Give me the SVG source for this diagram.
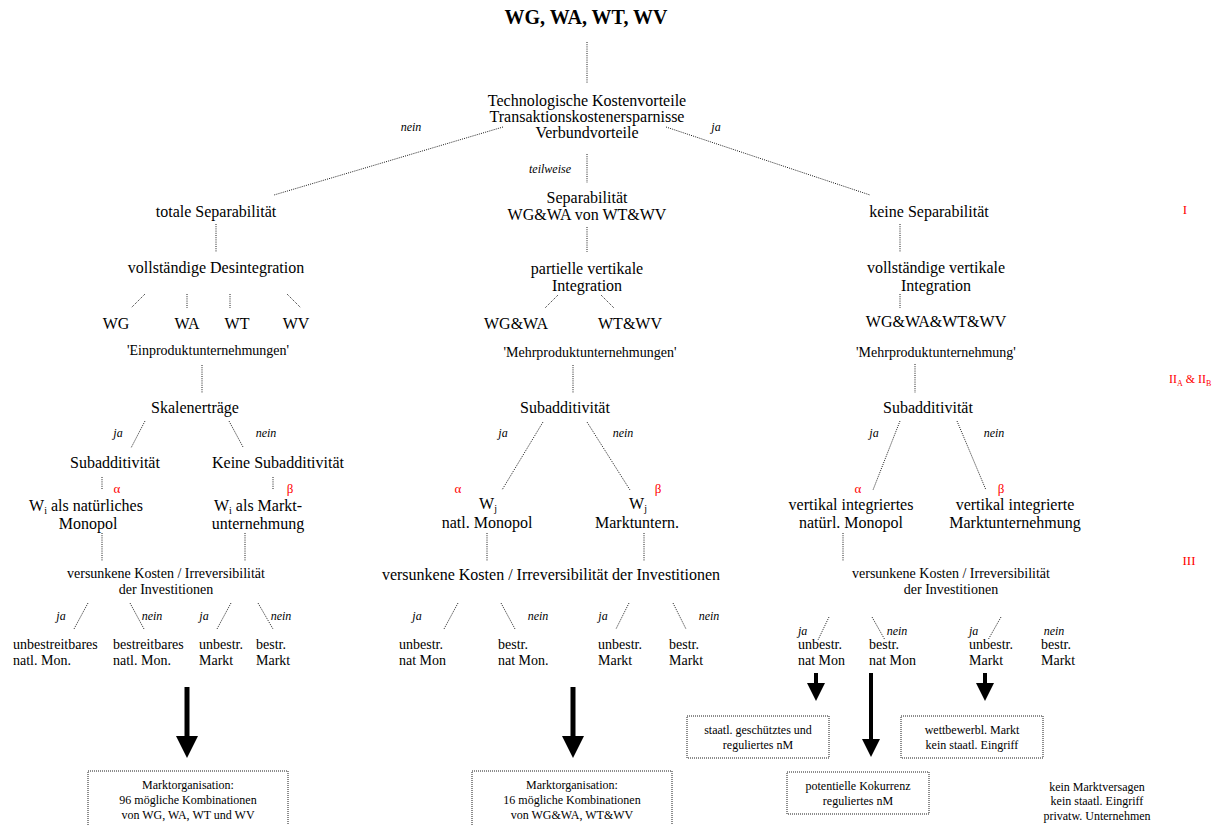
<svg xmlns="http://www.w3.org/2000/svg" width="1219" height="825" viewBox="0 0 1219 825" font-family="'Liberation Serif', 'Times New Roman', 'DejaVu Serif', serif">
<style>
svg text{font-family:'Liberation Serif','Times New Roman','DejaVu Serif',serif;fill:#000}
.m{font-size:16px;text-anchor:middle}
.s{font-size:14px;text-anchor:middle}
.l{font-size:14px;text-anchor:start}
.b{font-size:12px;text-anchor:middle}
.e{font-size:12px;font-style:italic;text-anchor:middle}
.es{font-size:12px;font-style:italic;text-anchor:start}
.r{fill:#ff0000;font-size:13px;text-anchor:middle}
.rl{fill:#ff0000;font-size:12px;text-anchor:start}
.d{stroke:#000;stroke-width:0.9;stroke-dasharray:1 1.2;fill:none}
.box{stroke:#000;stroke-width:0.9;stroke-dasharray:1 1;fill:#fff}
.big{stroke:#000;stroke-width:5;marker-end:url(#hb)}
.sm{stroke:#000;stroke-width:4;marker-end:url(#hs)}
</style>
<defs>
<marker id="hb" markerUnits="userSpaceOnUse" markerWidth="22" markerHeight="22" viewBox="0 0 22 22" refX="0" refY="11" orient="auto"><path d="M0,0 L22,11 L0,22 z" fill="#000"/></marker>
<marker id="hs" markerUnits="userSpaceOnUse" markerWidth="18" markerHeight="18" viewBox="0 0 18 18" refX="0" refY="9" orient="auto"><path d="M0,0 L18,9 L0,18 z" fill="#000"/></marker>
</defs>
<rect width="1219" height="825" fill="#fff"/>

<g id="connectors">
<line class="d" x1="587" y1="42" x2="587" y2="83"/>
<line class="d" x1="503" y1="127" x2="274" y2="195"/>
<line class="d" x1="666" y1="127" x2="870" y2="195"/>
<line class="d" x1="587" y1="154" x2="587" y2="183"/>
<line class="d" x1="216" y1="224" x2="216" y2="252"/>
<line class="d" x1="587" y1="227" x2="587" y2="252"/>
<line class="d" x1="900" y1="224" x2="900" y2="252"/>
<line class="d" x1="145" y1="294" x2="131" y2="308"/>
<line class="d" x1="187" y1="294" x2="187" y2="308"/>
<line class="d" x1="230" y1="294" x2="230" y2="308"/>
<line class="d" x1="287" y1="294" x2="301" y2="308"/>
<line class="d" x1="558" y1="295" x2="545" y2="308"/>
<line class="d" x1="601" y1="295" x2="614" y2="308"/>
<line class="d" x1="900" y1="294" x2="900" y2="308"/>
<line class="d" x1="202" y1="365" x2="202" y2="393"/>
<line class="d" x1="573" y1="365" x2="573" y2="393"/>
<line class="d" x1="915" y1="364" x2="915" y2="393"/>
<line class="d" x1="145" y1="421" x2="131" y2="448"/>
<line class="d" x1="229" y1="421" x2="243" y2="447"/>
<line class="d" x1="102" y1="477" x2="102" y2="490"/>
<line class="d" x1="273" y1="477" x2="273" y2="490"/>
<line class="d" x1="102" y1="533" x2="102" y2="561"/>
<line class="d" x1="245" y1="533" x2="245" y2="561"/>
<line class="d" x1="88" y1="603" x2="74" y2="629"/>
<line class="d" x1="130" y1="603" x2="144" y2="629"/>
<line class="d" x1="231" y1="603" x2="217" y2="629"/>
<line class="d" x1="258" y1="603" x2="273" y2="629"/>
<line class="d" x1="543" y1="422" x2="502" y2="490"/>
<line class="d" x1="587" y1="422" x2="630" y2="490"/>
<line class="d" x1="487" y1="533" x2="487" y2="561"/>
<line class="d" x1="644" y1="533" x2="644" y2="561"/>
<line class="d" x1="458" y1="603" x2="444" y2="629"/>
<line class="d" x1="501" y1="603" x2="515" y2="629"/>
<line class="d" x1="629" y1="603" x2="616" y2="629"/>
<line class="d" x1="673" y1="603" x2="686" y2="629"/>
<line class="d" x1="900" y1="421" x2="873" y2="490"/>
<line class="d" x1="957" y1="421" x2="986" y2="490"/>
<line class="d" x1="843" y1="533" x2="843" y2="561"/>
<line class="d" x1="829" y1="617" x2="818" y2="640"/>
<line class="d" x1="872" y1="617" x2="885" y2="640"/>
<line class="d" x1="1001" y1="617" x2="988" y2="640"/>
<line class="big" x1="187" y1="687" x2="187" y2="736"/>
<line class="big" x1="573" y1="687" x2="573" y2="736"/>
<line class="sm" x1="816" y1="673" x2="816" y2="683"/>
<line class="sm" x1="871" y1="673" x2="871" y2="739"/>
<line class="sm" x1="985" y1="673" x2="985" y2="683"/>
</g>

<g id="edge-labels">
<text class="e" x="411" y="131">nein</text>
<text class="e" x="716" y="131">ja</text>
<text class="e" x="550" y="173">teilweise</text>
<text class="e" x="118" y="437">ja</text>
<text class="e" x="266" y="437">nein</text>
<text class="e" x="61" y="620">ja</text>
<text class="e" x="152" y="620">nein</text>
<text class="e" x="204" y="620">ja</text>
<text class="e" x="281" y="620">nein</text>
<text class="e" x="503" y="437">ja</text>
<text class="e" x="623" y="437">nein</text>
<text class="e" x="417" y="620">ja</text>
<text class="e" x="538" y="620">nein</text>
<text class="e" x="603" y="620">ja</text>
<text class="e" x="709" y="620">nein</text>
<text class="e" x="874" y="437">ja</text>
<text class="e" x="994" y="437">nein</text>
<text class="es" x="798" y="635">ja</text>
<text class="e" x="897" y="635">nein</text>
<text class="es" x="969" y="635">ja</text>
<text class="e" x="1054" y="635">nein</text>
</g>

<g id="levels">
<text class="r" x="1185" y="214">I</text>
<text class="rl" x="1169" y="383">II<tspan font-size="8" dy="3">A</tspan><tspan dy="-3"> &amp; II</tspan><tspan font-size="8" dy="3">B</tspan></text>
<text class="r" x="1189" y="565">III</text>
</g>

<g id="n-title"><text x="586" y="24" style="font-size:20px;font-weight:bold;text-anchor:middle">WG, WA, WT, WV</text></g>
<g id="n-tech">
<text class="m" x="587" y="106">Technologische Kostenvorteile</text>
<text class="m" x="587" y="122">Transaktionskostenersparnisse</text>
<text class="m" x="587" y="138">Verbundvorteile</text>
</g>
<g id="n-total"><text class="m" x="216" y="217">totale Separabilität</text></g>
<g id="n-sep"><text class="m" x="587" y="203">Separabilität</text><text class="m" x="587" y="220">WG&amp;WA von WT&amp;WV</text></g>
<g id="n-keine"><text class="m" x="929" y="217">keine Separabilität</text></g>
<g id="n-desint"><text class="m" x="216" y="273">vollständige Desintegration</text></g>
<g id="n-partiell"><text class="m" x="587" y="274">partielle vertikale</text><text class="m" x="587" y="291">Integration</text></g>
<g id="n-vollvert"><text class="m" x="936" y="273">vollständige vertikale</text><text class="m" x="936" y="291">Integration</text></g>
<g id="n-wg"><text class="m" x="116" y="329">WG</text></g>
<g id="n-wa"><text class="m" x="187" y="329">WA</text></g>
<g id="n-wt"><text class="m" x="237" y="329">WT</text></g>
<g id="n-wv"><text class="m" x="296" y="329">WV</text></g>
<g id="n-wgwa"><text class="m" x="516" y="329">WG&amp;WA</text></g>
<g id="n-wtwv"><text class="m" x="630" y="329">WT&amp;WV</text></g>
<g id="n-all"><text class="m" x="936" y="327">WG&amp;WA&amp;WT&amp;WV</text></g>
<g id="n-ein"><text class="s" x="208" y="355">'Einproduktunternehmungen'</text></g>
<g id="n-mehr1"><text class="s" x="590" y="357">'Mehrproduktunternehmungen'</text></g>
<g id="n-mehr2"><text class="s" x="936" y="357">'Mehrproduktunternehmung'</text></g>

<g id="n-skal"><text class="m" x="195" y="413">Skalenerträge</text></g>
<g id="n-subL"><text class="m" x="115" y="468">Subadditivität</text></g>
<g id="n-keinesub"><text class="m" x="278" y="468">Keine Subadditivität</text></g>
<g id="n-wimon">
<text class="r" x="117" y="493">α</text>
<text class="m" x="86" y="511">W<tspan font-size="10" dy="3">i</tspan><tspan dy="-3"> als natürliches</tspan></text>
<text class="m" x="88" y="529">Monopol</text>
</g>
<g id="n-wimarkt">
<text class="r" x="290" y="493">β</text>
<text class="m" x="258" y="511">W<tspan font-size="10" dy="3">i</tspan><tspan dy="-3"> als Markt-</tspan></text>
<text class="m" x="258" y="529">unternehmung</text>
</g>
<g id="n-versL"><text class="s" x="166" y="578">versunkene Kosten / Irreversibilität</text><text class="s" x="166" y="594">der Investitionen</text></g>
<g id="n-L1"><text class="l" x="13" y="649">unbestreitbares</text><text class="l" x="13" y="665">natl. Mon.</text></g>
<g id="n-L2"><text class="l" x="113" y="649">bestreitbares</text><text class="l" x="113" y="665">natl. Mon.</text></g>
<g id="n-L3"><text class="l" x="199" y="649">unbestr.</text><text class="l" x="199" y="665">Markt</text></g>
<g id="n-L4"><text class="l" x="256" y="649">bestr.</text><text class="l" x="256" y="665">Markt</text></g>

<g id="n-subM"><text class="m" x="565" y="413">Subadditivität</text></g>
<g id="n-wjmon">
<text class="r" x="458" y="493">α</text>
<text class="m" x="488" y="509">W<tspan font-size="10" dy="3">j</tspan></text>
<text class="m" x="487" y="528">natl. Monopol</text>
</g>
<g id="n-wjmarkt">
<text class="r" x="658" y="493">β</text>
<text class="m" x="638" y="509">W<tspan font-size="10" dy="3">j</tspan></text>
<text class="m" x="637" y="528">Marktuntern.</text>
</g>
<g id="n-versM"><text class="m" x="551" y="580">versunkene Kosten / Irreversibilität der Investitionen</text></g>
<g id="n-M1"><text class="l" x="399" y="649">unbestr.</text><text class="l" x="399" y="665">nat Mon</text></g>
<g id="n-M2"><text class="l" x="498" y="649">bestr.</text><text class="l" x="498" y="665">nat Mon.</text></g>
<g id="n-M3"><text class="l" x="598" y="649">unbestr.</text><text class="l" x="598" y="665">Markt</text></g>
<g id="n-M4"><text class="l" x="669" y="649">bestr.</text><text class="l" x="669" y="665">Markt</text></g>

<g id="n-subR"><text class="m" x="928" y="413">Subadditivität</text></g>
<g id="n-vimon">
<text class="r" x="858" y="493">α</text>
<text class="m" x="851" y="510">vertikal integriertes</text>
<text class="m" x="851" y="528">natürl. Monopol</text>
</g>
<g id="n-vimarkt">
<text class="r" x="1001" y="493">β</text>
<text class="m" x="1015" y="510">vertikal integrierte</text>
<text class="m" x="1015" y="528">Marktunternehmung</text>
</g>
<g id="n-versR"><text class="s" x="951" y="578">versunkene Kosten / Irreversibilität</text><text class="s" x="951" y="594">der Investitionen</text></g>
<g id="n-R1"><text class="l" x="798" y="649">unbestr.</text><text class="l" x="798" y="665">nat Mon</text></g>
<g id="n-R2"><text class="l" x="869" y="649">bestr.</text><text class="l" x="869" y="665">nat Mon</text></g>
<g id="n-R3"><text class="l" x="969" y="649">unbestr.</text><text class="l" x="969" y="665">Markt</text></g>
<g id="n-R4"><text class="l" x="1041" y="649">bestr.</text><text class="l" x="1041" y="665">Markt</text></g>

<g id="n-box96">
<rect class="box" x="88" y="771" width="200" height="70"/>
<text class="b" x="188" y="789">Marktorganisation:</text>
<text class="b" x="188" y="804">96 mögliche Kombinationen</text>
<text class="b" x="188" y="819">von WG, WA, WT und WV</text>
</g>
<g id="n-box16">
<rect class="box" x="472" y="771" width="200" height="70"/>
<text class="b" x="572" y="789">Marktorganisation:</text>
<text class="b" x="572" y="804">16 mögliche Kombinationen</text>
<text class="b" x="572" y="819">von WG&amp;WA, WT&amp;WV</text>
</g>
<g id="n-staatl">
<rect class="box" x="687" y="716" width="142" height="42"/>
<text class="b" x="758" y="734">staatl. geschütztes und</text>
<text class="b" x="758" y="749">reguliertes nM</text>
</g>
<g id="n-potentielle">
<rect class="box" x="787" y="772" width="142" height="42"/>
<text class="b" x="858" y="790">potentielle Kokurrenz</text>
<text class="b" x="858" y="805">reguliertes nM</text>
</g>
<g id="n-wettbewerb">
<rect class="box" x="901" y="716" width="142" height="42"/>
<text class="b" x="972" y="734">wettbewerbl. Markt</text>
<text class="b" x="972" y="749">kein staatl. Eingriff</text>
</g>
<g id="n-kein">
<text class="b" x="1097" y="791">kein Marktversagen</text>
<text class="b" x="1097" y="805">kein staatl. Eingriff</text>
<text class="b" x="1097" y="820">privatw. Unternehmen</text>
</g>
</svg>
